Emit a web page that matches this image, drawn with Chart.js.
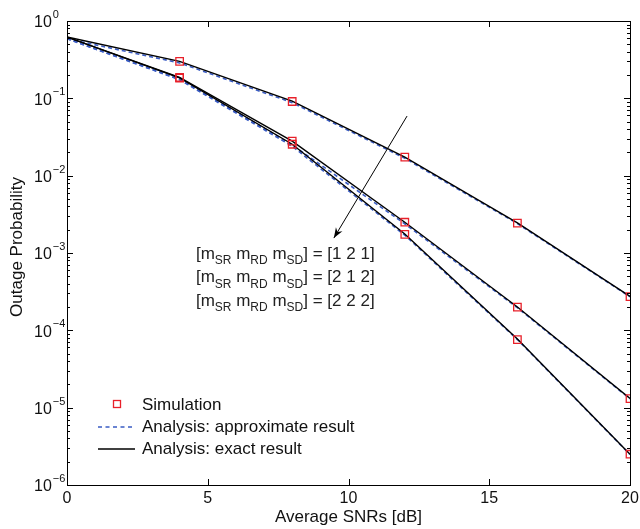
<!DOCTYPE html>
<html>
<head>
<meta charset="utf-8">
<script src="https://cdn.jsdelivr.net/npm/chart.js@4.4.0/dist/chart.umd.min.js"></script>
<style>html,body{margin:0;padding:0;background:#fff}</style>
</head>
<body>
<canvas id="c" width="640" height="529"></canvas>
<script>
// ===== Outage probability vs average SNR =====
const snr = [0, 4, 8, 12, 16, 20];
const simSnr = [4, 8, 12, 16, 20];

// exact analysis (solid black)
const exact121 = [0.62, 0.300, 0.092, 0.0174, 0.00245, 2.75e-4];
const exact212 = [0.62, 0.186, 0.0280, 0.00250, 2.0e-4, 1.32e-5];
const exact222 = [0.62, 0.184, 0.0255, 0.00176, 7.7e-5, 2.5e-6];

// approximate analysis (dashed blue)
const approx121 = [0.59, 0.287, 0.088, 0.0168, 0.00240, 2.72e-4];
const approx212 = [0.59, 0.176, 0.0250, 0.00238, 1.96e-4, 1.30e-5];
const approx222 = [0.59, 0.174, 0.0240, 0.00170, 7.6e-5, 2.48e-6];

// simulation (red squares)
const sim121 = [0.300, 0.091, 0.0174, 0.00243, 2.73e-4];
const sim212 = [0.186, 0.0280, 0.00250, 2.0e-4, 1.31e-5];
const sim222 = [0.182, 0.0255, 0.00174, 7.6e-5, 2.5e-6];

const xTicks = [0, 5, 10, 15, 20];
const yExps = [0, -1, -2, -3, -4, -5, -6];
const legendLabels = ['Simulation', 'Analysis: approximate result', 'Analysis: exact result'];
const caseLabels = ['[1 2 1]', '[2 1 2]', '[2 2 2]'];

const FONT = '"Liberation Sans", Arial, Helvetica, sans-serif';
const BLUE = '#3a5cc4', RED = '#e8202a';

const pts = (xs, ys) => xs.map((x, i) => ({ x, y: ys[i] }));

const solid = d => ({ data: pts(snr, d), borderColor: '#000', borderWidth: 1.4, pointRadius: 0, order: 1 });
const dashed = d => ({ data: pts(snr, d), borderColor: BLUE, borderWidth: 1.6, borderDash: [4, 3], pointRadius: 0, order: 2 });
const marks = d => ({ data: pts(simSnr, d), showLine: false, pointStyle: 'rect', pointRadius: 5.3, borderColor: RED, backgroundColor: 'rgba(0,0,0,0)', pointBorderWidth: 1.3, order: 0 });

function drawSub(ctx, x, y, parts) {
    // parts: [text, isSub]
    parts.forEach(([t, sub]) => {
        ctx.font = (sub ? '12px ' : '17px ') + FONT;
        ctx.fillText(t, x, sub ? y + 7 : y);
        x += ctx.measureText(t).width;
    });
}

const frame = {
    id: 'frame',
    afterDatasetsDraw(chart) {
        const { ctx, chartArea: a, scales: { x, y } } = chart;
        ctx.save();
        ctx.strokeStyle = '#000';
        ctx.lineWidth = 1;
        ctx.strokeRect(a.left + 0.5, a.top + 0.5, a.right - a.left, a.bottom - a.top);
        ctx.beginPath();
        xTicks.forEach(v => {
            const px = Math.round(x.getPixelForValue(v)) + 0.5;
            ctx.moveTo(px, a.bottom); ctx.lineTo(px, a.bottom - 6);
            ctx.moveTo(px, a.top); ctx.lineTo(px, a.top + 6);
        });
        for (let e = -6; e <= 0; e++) {
            for (let m = 1; m <= 9; m++) {
                if (e === 0 && m > 1) break;
                const py = Math.round(y.getPixelForValue(m * Math.pow(10, e))) + 0.5;
                const len = m === 1 ? 6 : 3;
                ctx.moveTo(a.left, py); ctx.lineTo(a.left + len, py);
                ctx.moveTo(a.right, py); ctx.lineTo(a.right - len, py);
            }
        }
        ctx.stroke();

        // tick labels
        ctx.fillStyle = '#111';
        ctx.textBaseline = 'middle';
        ctx.textAlign = 'center';
        ctx.font = '16px ' + FONT;
        xTicks.forEach(v => ctx.fillText(String(v), x.getPixelForValue(v), a.bottom + 14));
        ctx.textAlign = 'left';
        yExps.forEach(e => {
            const py = y.getPixelForValue(Math.pow(10, e));
            ctx.font = '16px ' + FONT;
            ctx.fillText('10', 34, py + 2);
            const w = ctx.measureText('10').width;
            ctx.font = '11px ' + FONT;
            ctx.fillText(e === 0 ? '0' : '\u2212' + (-e), 34 + w + 1, py - 6);
        });

        // axis titles
        ctx.font = '17px ' + FONT;
        ctx.textAlign = 'center';
        ctx.fillText('Average SNRs [dB]', (a.left + a.right) / 2, a.bottom + 32);
        ctx.save();
        ctx.translate(17, 247);
        ctx.rotate(-Math.PI / 2);
        ctx.fillText('Outage Probability', 0, 0);
        ctx.restore();

        // legend
        ctx.textAlign = 'left';
        ctx.font = '17px ' + FONT;
        const lx = 98, ly = 405, step = 22;
        ctx.strokeStyle = RED; ctx.lineWidth = 1.3;
        ctx.strokeRect(113.5, ly - 4.5, 7, 7);
        ctx.strokeStyle = BLUE; ctx.lineWidth = 1.5; ctx.setLineDash([4, 3.5]);
        ctx.beginPath(); ctx.moveTo(lx, ly + step); ctx.lineTo(lx + 37, ly + step); ctx.stroke();
        ctx.setLineDash([]);
        ctx.strokeStyle = '#000'; ctx.lineWidth = 1.4;
        ctx.beginPath(); ctx.moveTo(lx, ly + 2 * step); ctx.lineTo(lx + 37, ly + 2 * step); ctx.stroke();
        legendLabels.forEach((t, i) => ctx.fillText(t, 142, ly + i * step));

        // arrow annotation
        const x0 = x.getPixelForValue(12.08), y0 = y.getPixelForValue(0.059);
        const x1 = x.getPixelForValue(9.48), y1 = y.getPixelForValue(1.56e-3);
        ctx.strokeStyle = '#000'; ctx.lineWidth = 1;
        ctx.beginPath(); ctx.moveTo(x0, y0); ctx.lineTo(x1, y1); ctx.stroke();
        const ang = Math.atan2(y1 - y0, x1 - x0);
        ctx.beginPath();
        ctx.moveTo(x1, y1);
        ctx.lineTo(x1 - 11 * Math.cos(ang - 0.35), y1 - 11 * Math.sin(ang - 0.35));
        ctx.lineTo(x1 - 7 * Math.cos(ang), y1 - 7 * Math.sin(ang));
        ctx.lineTo(x1 - 11 * Math.cos(ang + 0.35), y1 - 11 * Math.sin(ang + 0.35));
        ctx.closePath();
        ctx.fillStyle = '#000'; ctx.fill();

        ctx.fillStyle = '#222';
        ctx.textBaseline = 'middle';
        const tx = x.getPixelForValue(4.58);
        caseLabels.forEach((c, i) => {
            drawSub(ctx, tx, 254 + i * 23.5, [['[m', 0], ['SR', 1], [' m', 0], ['RD', 1], [' m', 0], ['SD', 1], ['] = ' + c, 0]]);
        });
        ctx.restore();
    }
};

new Chart(document.getElementById('c').getContext('2d'), {
    type: 'line',
    data: { datasets: [
        marks(sim121), marks(sim212), marks(sim222),
        solid(exact121), solid(exact212), solid(exact222),
        dashed(approx121), dashed(approx212), dashed(approx222)
    ]},
    options: { responsive: false, animation: false,
        layout: { padding: { left: 67, top: 21, right: 10, bottom: 44 } },
        scales: {
            x: { type: 'linear', min: 0, max: 20, display: false },
            y: { type: 'logarithmic', min: 1e-6, max: 1, display: false }
        },
        plugins: { legend: { display: false }, tooltip: { enabled: false } }
    },
    plugins: [frame]
});
</script>
</body>
</html>
